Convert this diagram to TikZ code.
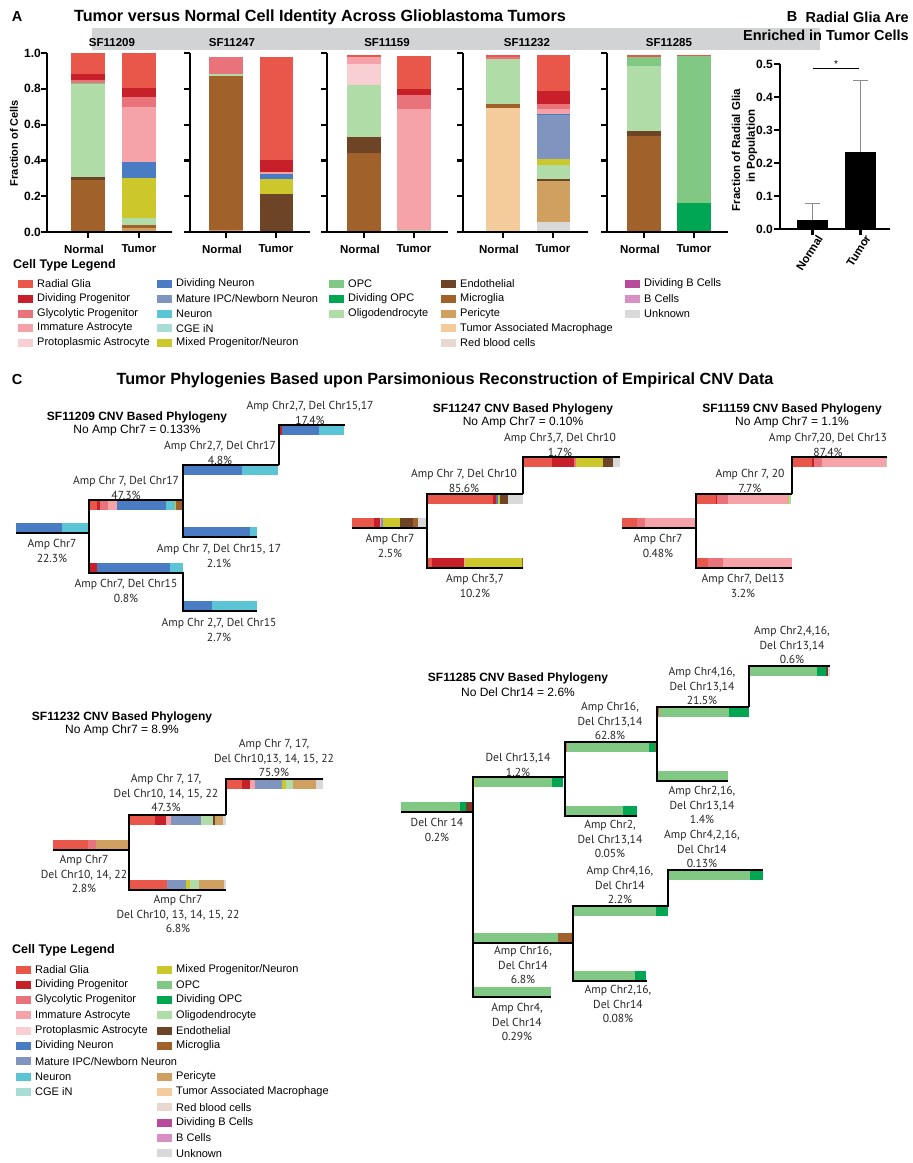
\documentclass[tikz,border=0pt]{standalone}
\usepackage{fontspec}
\setmainfont{Liberation Sans}
\newfontfamily\myr{PT Sans}
\definecolor{RG}{HTML}{E8574A}
\definecolor{DP}{HTML}{C8202A}
\definecolor{GP}{HTML}{E8737A}
\definecolor{IA}{HTML}{F5A3A8}
\definecolor{PA}{HTML}{F8D0D4}
\definecolor{DN}{HTML}{4A7CC4}
\definecolor{MI}{HTML}{7F95C0}
\definecolor{NE}{HTML}{5BC5D6}
\definecolor{CG}{HTML}{A8DDD5}
\definecolor{MP}{HTML}{CCC72A}
\definecolor{OPC}{HTML}{80C883}
\definecolor{DO}{HTML}{00A651}
\definecolor{OL}{HTML}{B0DCA8}
\definecolor{EN}{HTML}{6E4426}
\definecolor{MG}{HTML}{A0612A}
\definecolor{PE}{HTML}{D0A060}
\definecolor{TAM}{HTML}{F4CC9C}
\definecolor{RB}{HTML}{E8D8D0}
\definecolor{DB}{HTML}{B84A9C}
\definecolor{BC}{HTML}{D890C4}
\definecolor{UN}{HTML}{D9D9D9}
\definecolor{band}{HTML}{D1D3D4}
\definecolor{errgray}{HTML}{8C8C8C}
\newcommand{\hseg}[3]{\xdef\px{#1}\foreach \cc/\xe in {#3}{\fill[\cc] (\px,#2) rectangle (\xe,#2+10);\xdef\px{\xe}}}
\newcommand{\vseg}[3]{\xdef\pf{0}\foreach \cc/\ff in {#3}{\fill[\cc] (#1,{232-179*\pf}) rectangle (#2,{232-179*\ff});\xdef\pf{\ff}}}
\newcommand{\legitem}[5]{\fill[#4] (#2,#3-4) rectangle (#2+15,#3+4);\node[legtxt] (#1) at (#2+19,#3) {#5};}
\tikzset{
 treeline/.style={line width=2.4pt, line join=miter},
 tlab/.style={font=\myr\fontsize{11.6}{14.6}\selectfont, align=center, inner sep=0pt, anchor=north, text=black!85},
 ttitle/.style={font=\bfseries\fontsize{12}{14}\selectfont, inner sep=0pt},
 tsubt/.style={font=\fontsize{12}{14}\selectfont, inner sep=0pt},
 legtxt/.style={font=\fontsize{11}{12}\selectfont, anchor=west, inner sep=0pt},
 legtitle/.style={font=\bfseries\fontsize{12.5}{14}\selectfont, anchor=west, inner sep=0pt},
 bigtitle/.style={font=\bfseries\fontsize{16.2}{18}\selectfont, inner sep=0pt},
 btitle/.style={font=\bfseries\fontsize{14.5}{17}\selectfont, inner sep=0pt},
 axlab/.style={font=\bfseries\fontsize{11.5}{13}\selectfont, inner sep=0pt},
 ticklab/.style={font=\bfseries\fontsize{12}{13}\selectfont, inner sep=0pt, anchor=east},
 axisline/.style={line width=2.2pt},
}
\begin{document}
\begin{tikzpicture}[x=1pt,y=-1pt]
\useasboundingbox (0,0) rectangle (913,1163);
% ---------------- Panel A ----------------
\node[btitle] (Alet) at (17,17) {A};
\node[bigtitle] (Atitle) at (320,17) {Tumor versus Normal Cell Identity Across Glioblastoma Tumors};
\fill[band] (92,28) rectangle (820,50);
\node[axlab] (s1) at (112,43) {SF11209};
\node[axlab] (s2) at (232,43) {SF11247};
\node[axlab] (s3) at (387,43) {SF11159};
\node[axlab] (s4) at (527,43) {SF11232};
\node[axlab] (s5) at (669,43) {SF11285};
% bars
\vseg{71}{105}{MG/0.29,EN/0.31,OL/0.825,OPC/0.83,GP/0.85,DP/0.885,RG/1.0}
\vseg{122}{156}{PE/0.02,MG/0.04,OL/0.08,MP/0.30,DN/0.39,IA/0.70,GP/0.755,DP/0.805,RG/1.0}
\vseg{209}{243}{PE/0.01,MG/0.87,OL/0.88,GP/0.98}
\vseg{260}{293}{EN/0.215,MP/0.295,DN/0.325,IA/0.335,DP/0.40,RG/0.98}
\vseg{347}{381}{MG/0.443,EN/0.53,OL/0.82,PA/0.94,IA/0.98,RG/0.99}
\vseg{397}{431}{OL/0.01,IA/0.685,GP/0.765,DP/0.80,RG/0.985}
\vseg{486}{520}{TAM/0.69,MG/0.713,OL/0.965,GP/0.975,RG/0.99}
\vseg{537}{570}{UN/0.057,PE/0.287,EN/0.295,OL/0.374,MP/0.406,MI/0.654,DN/0.66,IA/0.685,GP/0.713,DP/0.788,RG/0.99}
\vseg{627}{661}{MG/0.538,EN/0.564,OL/0.93,OPC/0.976,RG/0.99}
\vseg{677}{711}{RG/0.005,DO/0.16,OPC/0.985,RG/0.99}
% axes
\foreach \ax/\xend/\na/\tb in {47/172/88/139,190/310/226/276,327/448/364/414,463/588/503/553,607/728/644/694}{
 \draw[axisline] (\ax,53) -- (\ax,232) -- (\xend,232);
 \foreach \k in {0,...,5}{\draw[axisline] (\ax-6,{232-35.8*\k}) -- (\ax,{232-35.8*\k});}
 \draw[axisline] (\na,232) -- (\na,238);
 \draw[axisline] (\tb,232) -- (\tb,238);
 \node[axlab] at (\na-4,249) {Normal};
 \node[axlab] at (\tb,249) {Tumor};
}
\foreach \k/\t in {0/0.0,1/0.2,2/0.4,3/0.6,4/0.8,5/1.0}{\node[ticklab] at (41,{232-35.8*\k}) {\t};}
\node[axlab, rotate=90, font=\bfseries\fontsize{11}{13}\selectfont] (fc) at (14,143) {Fraction of Cells};
% ---------------- Panel B ----------------
\node[btitle] (Blet) at (792,17) {B};
\node[btitle, anchor=east] (Bt1) at (909,17) {Radial Glia Are};
\node[btitle, anchor=east] (Bt2) at (909,35) {Enriched in Tumor Cells};
\fill[black] (797,229) rectangle (828,219.8);
\fill[black] (845,229) rectangle (876,151.5);
\draw[errgray, line width=1.3pt] (812.5,219.8) -- (812.5,203.6) (805,203.6) -- (820,203.6);
\draw[errgray, line width=1.3pt] (860.5,151.5) -- (860.5,80.5) (853,80.5) -- (868,80.5);
\draw[axisline] (780,64) -- (780,229) -- (890,229);
\foreach \k in {0,...,5}{\draw[axisline] (774,{229-33*\k}) -- (780,{229-33*\k});}
\foreach \k/\t in {0/0.0,1/0.1,2/0.2,3/0.3,4/0.4,5/0.5}{\node[ticklab] at (773,{229-33*\k}) {\t};}
\draw[axisline] (812.5,229) -- (812.5,235);
\draw[axisline] (860.5,229) -- (860.5,235);
\draw[line width=1pt] (813,68) -- (859,68);
\node[font=\fontsize{10}{10}\selectfont, inner sep=0pt] (star) at (836,64) {*};
\node[axlab, rotate=58, anchor=east] (bn) at (820,236) {Normal};
\node[axlab, rotate=58, anchor=east] (bt) at (868,236) {Tumor};
\node[axlab, rotate=90, font=\bfseries\fontsize{11.5}{13}\selectfont] (by1) at (736,150) {Fraction of Radial Glia};
\node[axlab, rotate=90, font=\bfseries\fontsize{11.5}{13}\selectfont] (by2) at (752,146) {in Population};
% ---------------- Legend A ----------------
\node[legtitle] (legA) at (13,265) {Cell Type Legend};
\legitem{a1}{18}{284}{RG}{Radial Glia}
\legitem{a2}{18}{298.75}{DP}{Dividing Progenitor}
\legitem{a3}{18}{313.5}{GP}{Glycolytic Progenitor}
\legitem{a4}{18}{328.25}{IA}{Immature Astrocyte}
\legitem{a5}{18}{343}{PA}{Protoplasmic Astrocyte}
\legitem{a6}{157}{284}{DN}{Dividing Neuron}
\legitem{a7}{157}{298.75}{MI}{Mature IPC/Newborn Neuron}
\legitem{a8}{157}{313.5}{NE}{Neuron}
\legitem{a9}{157}{328.25}{CG}{CGE iN}
\legitem{a10}{157}{343}{MP}{Mixed Progenitor/Neuron}
\legitem{a11}{329}{284}{OPC}{OPC}
\legitem{a12}{329}{298.75}{DO}{Dividing OPC}
\legitem{a13}{329}{313.5}{OL}{Oligodendrocyte}
\legitem{a14}{441}{284}{EN}{Endothelial}
\legitem{a15}{441}{298.75}{MG}{Microglia}
\legitem{a16}{441}{313.5}{PE}{Pericyte}
\legitem{a17}{441}{328.25}{TAM}{Tumor Associated Macrophage}
\legitem{a18}{441}{343}{RB}{Red blood cells}
\legitem{a19}{625}{284}{DB}{Dividing B Cells}
\legitem{a20}{625}{298.75}{BC}{B Cells}
\legitem{a21}{625}{313.5}{UN}{Unknown}
% ---------------- Panel C ----------------
\node[btitle] (Clet) at (17,380) {C};
\node[bigtitle] (Ctitle) at (445,380) {Tumor Phylogenies Based upon Parsimonious Reconstruction of Empirical CNV Data};
% ---- SF11209 ----
\node[ttitle] (t1) at (137,417) {SF11209 CNV Based Phylogeny};
\node[tsubt] (t1s) at (137,430) {No Amp Chr7 = 0.133\%};
\hseg{16}{523}{DN/62,NE/88}
\hseg{90}{500}{RG/97,DP/100,GP/108,IA/117,DN/166,NE/175,MP/176,MG/183}
\hseg{184}{465}{DN/242,NE/278}
\hseg{280}{425}{DP/282,DN/319,NE/344}
\hseg{184}{527}{DN/250,NE/257}
\hseg{90}{563}{DP/97,DN/170,NE/183}
\hseg{184}{601}{DN/212,NE/257}
\draw[treeline] (16,533) -- (89,533);
\draw[treeline] (183,500) -- (89,500) -- (89,573) -- (183,573) -- (183,611) -- (257,611);
\draw[treeline] (279,465) -- (183,465) -- (183,537) -- (257,537);
\draw[treeline] (345,425) -- (279,425) -- (279,465);
\node[tlab] (l11) at (52,539) {Amp Chr7\\22.3\%};
\node[tlab] (l12) at (126,476) {Amp Chr 7, Del Chr17\\47.3\%};
\node[tlab] (l13) at (220,441) {Amp Chr2,7, Del Chr17\\4.8\%};
\node[tlab] (l14) at (310,401) {Amp Chr2,7, Del Chr15,17\\17.4\%};
\node[tlab] (l15) at (219,544) {Amp Chr 7, Del Chr15, 17\\2.1\%};
\node[tlab] (l16) at (126,579) {Amp Chr7, Del Chr15\\0.8\%};
\node[tlab] (l17) at (219,618) {Amp Chr 2,7, Del Chr15\\2.7\%};
% ---- SF11247 ----
\node[ttitle] (t2) at (523,409) {SF11247 CNV Based Phylogeny};
\node[tsubt] (t2s) at (523,422) {No Amp Chr7 = 0.10\%};
\hseg{352}{518}{RG/374,DP/380,IA/381,MI/383,MP/400,EN/413,MG/418,UN/426}
\hseg{428}{494}{RG/493,DP/496,DN/498,MP/500,EN/508,UN/523}
\hseg{524}{457}{RG/552,DP/574,GP/576,MP/603,EN/613,UN/620}
\hseg{428}{558}{RG/432,DP/464,IA/465,MP/522,MG/523}
\draw[treeline] (352,528) -- (427,528);
\draw[treeline] (523,494) -- (427,494) -- (427,568) -- (523,568);
\draw[treeline] (620,457) -- (523,457) -- (523,494);
\node[tlab] (l21) at (390,534) {Amp Chr7\\2.5\%};
\node[tlab] (l22) at (464,469) {Amp Chr 7, Del Chr10\\85.6\%};
\node[tlab] (l23) at (560,433) {Amp Chr3,7, Del Chr10\\1.7\%};
\node[tlab] (l24) at (475,574) {Amp Chr3,7\\10.2\%};
% ---- SF11159 ----
\node[ttitle] (t3) at (792,409) {SF11159 CNV Based Phylogeny};
\node[tsubt] (t3s) at (792,422) {No Amp Chr7 = 1.1\%};
\hseg{622}{518}{RG/637,GP/645,IA/695}
\hseg{697}{494}{RG/716,DP/717,GP/728,IA/788,MP/789,OL/791}
\hseg{793}{457}{RG/812,DP/814,GP/822,IA/886,OL/887}
\hseg{697}{558}{RG/708,GP/723,IA/792}
\draw[treeline] (622,528) -- (696,528);
\draw[treeline] (792,494) -- (696,494) -- (696,568) -- (792,568);
\draw[treeline] (887,457) -- (792,457) -- (792,494);
\node[tlab] (l31) at (658,534) {Amp Chr7\\0.48\%};
\node[tlab] (l32) at (750,469) {Amp Chr 7, 20\\7.7\%};
\node[tlab] (l33) at (828,433) {Amp Chr7,20, Del Chr13\\87.4\%};
\node[tlab] (l34) at (743,574) {Amp Chr7, Del13\\3.2\%};
% ---- SF11232 ----
\node[ttitle] (t4) at (122,717) {SF11232 CNV Based Phylogeny};
\node[tsubt] (t4s) at (122,730) {No Amp Chr7 = 8.9\%};
\hseg{53}{840}{RG/88,GP/96,PE/128}
\hseg{130}{815}{RG/155,DP/166,IA/171,MI/201,OL/213,EN/215,PE/223,UN/226}
\hseg{227}{779}{RG/242,DP/250,IA/255,MI/282,MP/286,OL/293,PE/316,UN/323}
\hseg{130}{880}{RG/167,MI/186,MP/190,OL/199,PE/224,UN/226}
\draw[treeline] (53,850) -- (129,850);
\draw[treeline] (226,815) -- (129,815) -- (129,890) -- (226,890);
\draw[treeline] (323,779) -- (226,779) -- (226,815);
\node[tlab] (l41) at (84,855) {Amp Chr7\\Del Chr10, 14, 22\\2.8\%};
\node[tlab] (l42) at (166,774) {Amp Chr 7, 17,\\Del Chr10, 14, 15, 22\\47.3\%};
\node[tlab] (l43) at (274,739) {Amp Chr 7, 17,\\Del Chr10,13, 14, 15, 22\\75.9\%};
\node[tlab] (l44) at (178,895) {Amp Chr7\\Del Chr10, 13, 14, 15, 22\\6.8\%};
% ---- SF11285 ----
\node[ttitle] (t5) at (518,678) {SF11285 CNV Based Phylogeny};
\node[tsubt] (t5s) at (518,692) {No Del Chr14 = 2.6\%};
\hseg{401}{802}{OPC/460,DO/466,EN/471,DP/472}
\hseg{474}{777}{MP/475,OPC/552,DO/563}
\hseg{566}{742}{RG/567,OPC/649,DO/655,MG/656}
\hseg{658}{707}{RG/659,OPC/729,DO/749}
\hseg{750}{666}{OPC/817,DO/826,EN/828,UN/830}
\hseg{658}{771}{OPC/728}
\hseg{566}{806}{OPC/623,DO/637}
\hseg{474}{933}{OPC/558,MG/572}
\hseg{574}{906}{OPC/656,DO/668}
\hseg{669}{870}{OPC/750,DO/763}
\hseg{574}{971}{OPC/635,DO/646}
\hseg{474}{987}{OPC/551}
\draw[treeline] (401,812) -- (473,812);
\draw[treeline] (565,777) -- (473,777) -- (473,997) -- (551,997);
\draw[treeline] (473,943) -- (573,943);
\draw[treeline] (657,742) -- (565,742) -- (565,816) -- (637,816);
\draw[treeline] (749,707) -- (657,707) -- (657,781) -- (728,781);
\draw[treeline] (830,666) -- (749,666) -- (749,707);
\draw[treeline] (763,870) -- (668,870) -- (668,906) -- (573,906) -- (573,981) -- (647,981);
\node[tlab] (l51) at (437,818) {Del Chr 14\\0.2\%};
\node[tlab] (l52) at (518,753) {Del Chr13,14\\1.2\%};
\node[tlab] (l53) at (610,702) {Amp Chr16,\\Del Chr13,14\\62.8\%};
\node[tlab] (l54) at (702,667) {Amp Chr4,16,\\Del Chr13,14\\21.5\%};
\node[tlab] (l55) at (792,626) {Amp Chr2,4,16,\\Del Chr13,14\\0.6\%};
\node[tlab] (l56) at (702,786) {Amp Chr2,16,\\Del Chr13,14\\1.4\%};
\node[tlab] (l57) at (610,820) {Amp Chr2,\\Del Chr13,14\\0.05\%};
\node[tlab] (l58) at (523,946) {Amp Chr16,\\Del Chr14\\6.8\%};
\node[tlab] (l59) at (620,866) {Amp Chr4,16,\\Del Chr14\\2.2\%};
\node[tlab] (l510) at (702,830) {Amp Chr4,2,16,\\Del Chr14\\0.13\%};
\node[tlab] (l511) at (618,985) {Amp Chr2,16,\\Del Chr14\\0.08\%};
\node[tlab] (l512) at (517,1003) {Amp Chr4,\\Del Chr14\\0.29\%};
% ---------------- Legend C ----------------
\node[legtitle] (legC) at (12,950) {Cell Type Legend};
\legitem{c1}{16}{969.5}{RG}{Radial Glia}
\legitem{c2}{16}{984.8}{DP}{Dividing Progenitor}
\legitem{c3}{16}{1000.1}{GP}{Glycolytic Progenitor}
\legitem{c4}{16}{1015.4}{IA}{Immature Astrocyte}
\legitem{c5}{16}{1030.7}{PA}{Protoplasmic Astrocyte}
\legitem{c6}{16}{1046}{DN}{Dividing Neuron}
\legitem{c7}{16}{1061.3}{MI}{Mature IPC/Newborn Neuron}
\legitem{c8}{16}{1076.6}{NE}{Neuron}
\legitem{c9}{16}{1091.9}{CG}{CGE iN}
\legitem{c10}{157}{969.5}{MP}{Mixed Progenitor/Neuron}
\legitem{c11}{157}{984.8}{OPC}{OPC}
\legitem{c12}{157}{1000.1}{DO}{Dividing OPC}
\legitem{c13}{157}{1015.4}{OL}{Oligodendrocyte}
\legitem{c14}{157}{1030.7}{EN}{Endothelial}
\legitem{c15}{157}{1046}{MG}{Microglia}
\legitem{c16}{157}{1076.6}{PE}{Pericyte}
\legitem{c17}{157}{1091.9}{TAM}{Tumor Associated Macrophage}
\legitem{c18}{157}{1107.2}{RB}{Red blood cells}
\legitem{c19}{157}{1122.5}{DB}{Dividing B Cells}
\legitem{c20}{157}{1137.8}{BC}{B Cells}
\legitem{c21}{157}{1153.1}{UN}{Unknown}
\end{tikzpicture}
\end{document}
